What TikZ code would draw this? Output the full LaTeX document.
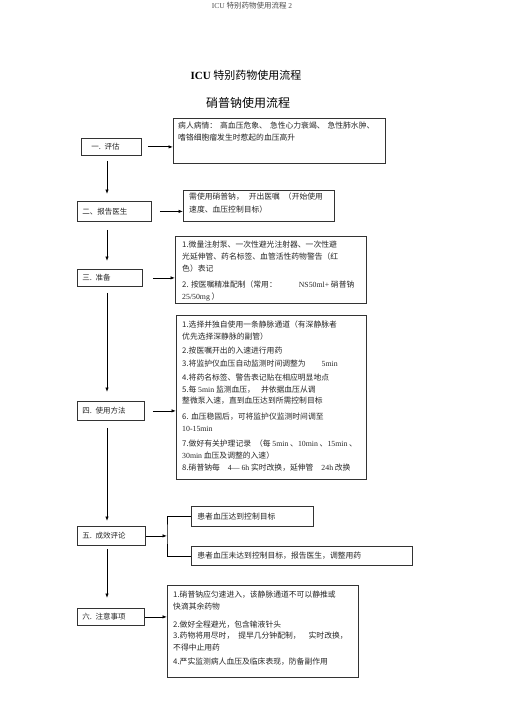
\documentclass[tikz,border=0pt]{standalone}
\usepackage{fontspec}
\setmainfont{Liberation Serif}
\newfontfamily\cjk{Noto Sans CJK SC}
\usetikzlibrary{arrows.meta}
\newcommand{\la}[1]{{\rmfamily #1}}

\begin{document}
\begin{tikzpicture}[x=1pt,y=-1pt,
    stage/.style={draw=black!80, line width=0.8pt, anchor=north west, inner xsep=5pt, inner ysep=0pt,
        text width=#1, align=left, font=\cjk\fontsize{7.5}{9}\selectfont, text=black!85},
    panel/.style={draw=black!80, line width=0.8pt, anchor=north west, inner sep=0pt},
    note/.style={anchor=north west, inner sep=0pt, align=left,
        font=\cjk\fontsize{7.8}{12}\selectfont, text=black!85},
    tag/.style={panel, inner xsep=6pt, text width=#1, align=left,
        font=\cjk\fontsize{7.8}{12}\selectfont, text=black!85},
    flow/.style={-{Latex[length=4.5pt,width=3.5pt]}, line width=0.8pt},
    link/.style={line width=0.8pt}]
            \useasboundingbox (0,0) rectangle (505,714);

            % titles
            \node[font=\fontsize{7.5}{9}\selectfont, text=black!70] (header) at (252,6) {ICU {\cjk 特别药物使用流程} 2};
            \node[font=\fontsize{11}{13}\selectfont] (title) at (246,75) {\textbf{ICU} {\cjk 特别药物使用流程}};
            \node[font=\cjk\fontsize{12}{14}\selectfont] (subtitle) at (248,103) {硝普钠使用流程};

            % steps on the left
            \node[stage=50pt, minimum height=17pt] (eval) at (81,138) {\hspace*{5pt}一. 评估};
            \node[stage=64pt, minimum height=20pt] (report) at (77,201) {二、报告医生};
            \node[stage=55pt, minimum height=17pt] (prep) at (77,269) {三. 准备};
            \node[stage=57pt, minimum height=19pt] (usage) at (77,401) {四. 使用方法};
            \node[stage=58pt, minimum height=19pt] (effect) at (77,526) {五. 成效评论};
            \node[stage=57pt, minimum height=17pt] (notes) at (77,608) {六. 注意事项};

            % boxes on the right
            \node[panel, minimum width=212pt, minimum height=45pt] (cond) at (173,118) {};
            \node[note] (cond-t) at ([xshift=5pt,yshift=-4pt]cond.north west)
                {病人病情：\hspace{3pt}高血压危象、\hspace{3pt}急性心力衰竭、\hspace{3pt}急性肺水肿、\\
                 嗜铬细胞瘤发生时惹起的血压高升};

            \node[panel, minimum width=151pt, minimum height=31pt] (order) at (183,190) {};
            \node[note] (order-t) at ([xshift=6pt,yshift=-3pt]order.north west)
                {需使用硝普钠，\hspace{5pt}开出医嘱\hspace{4pt}（开始使用\\[1pt]
                 速度、血压控制目标）};

            \node[panel, minimum width=191pt, minimum height=67pt] (supply) at (175,236) {};
            \node[note] (supply-t) at ([xshift=7pt,yshift=-5pt]supply.north west)
                {1.微量注射泵、一次性避光注射器、一次性避\\
                 光延伸管、药名标签、血管活性药物警告（红\\
                 色）表记\\[4pt]
                 2. 按医嘱精准配制（常用：\hspace{22pt}\la{NS50ml+} 硝普钠\\
                 \la{25/50mg} ）};

            \node[panel, minimum width=190pt, minimum height=164pt] (method) at (176,315) {};
            \node[note] (method-t) at ([xshift=6pt,yshift=-6pt]method.north west)
                {1.选择并独自使用一条静脉通道（有深静脉者\\
                 优先选择深静脉的副管）\\[2pt]
                 2.按医嘱开出的入速进行用药\\[1pt]
                 3.将监护仪血压自动监测时间调整为\hspace{16pt}\la{5min}\\[2pt]
                 4.将药名标签、警告表记贴在相应明显地点\\
                 5.每 \la{5min} 监测血压，\hspace{6pt}并依据血压从调\\[-1pt]
                 整微泵入速，直到血压达到所需控制目标\\[4pt]
                 6. 血压稳固后，可将监护仪监测时间调至\\
                 \la{10-15min}\\[3pt]
                 7.做好有关护理记录\hspace{4pt}（每 \la{5min} 、\la{10min} 、\la{15min} 、\\
                 \la{30min} 血压及调整的入速）\\
                 8.硝普钠每\hspace{8pt}\la{4— 6h} 实时改换，延伸管\hspace{8pt}\la{24h} 改换};

            \node[tag=110pt, minimum width=122pt, minimum height=20pt] (ok) at (191,506) {患者血压达到控制目标};
            \node[tag=209pt, minimum width=221pt, minimum height=19pt] (notok) at (191,546) {患者血压未达到控制目标，报告医生，调整用药};

            \node[panel, minimum width=191pt, minimum height=92pt] (caution) at (167,585) {};
            \node[note] (caution-t) at ([xshift=6pt,yshift=-6pt]caution.north west)
                {1.硝普钠应匀速进入，该静脉通道不可以静推或\\
                 快滴其余药物\\[6pt]
                 2.做好全程避光，包含输液针头\\[-1pt]
                 3.药物将用尽时，\hspace{4pt}提早几分钟配制，\hspace{8pt}实时改换，\\
                 不得中止用药\\[2pt]
                 4.严实监测病人血压及临床表现，防备副作用};

            % arrows
            \coordinate (spine) at (107,0);
            \coordinate (split) at (167,532);
            \foreach \a/\b/\s/\e in {eval/report/5pt/7pt, report/prep/8pt/8pt, prep/usage/6pt/9pt,
                                     usage/effect/7pt/5pt, effect/notes/3pt/10pt}
                \draw[flow, shorten <=\s, shorten >=\e] (\a.south -| spine) -- (\b.north -| spine);

            \draw[flow, shorten <=6pt] (eval.east) -- (eval.east -| cond.west);
            \draw[flow, shorten <=8pt] (report.east) -- (report.east -| order.west);
            \draw[flow, shorten <=10pt] (prep.east) -- (prep.east -| supply.west);
            \draw[flow, shorten <=8pt] (usage.east) -- (usage.east -| method.west);
            \draw[flow] (effect.east) -- (effect.east -| split);
            \draw[link] (ok.west) -| (split) |- (notok.west);
            \draw[flow] (notes.east) -- (notes.east -| caution.west);
\end{tikzpicture}
\end{document}
